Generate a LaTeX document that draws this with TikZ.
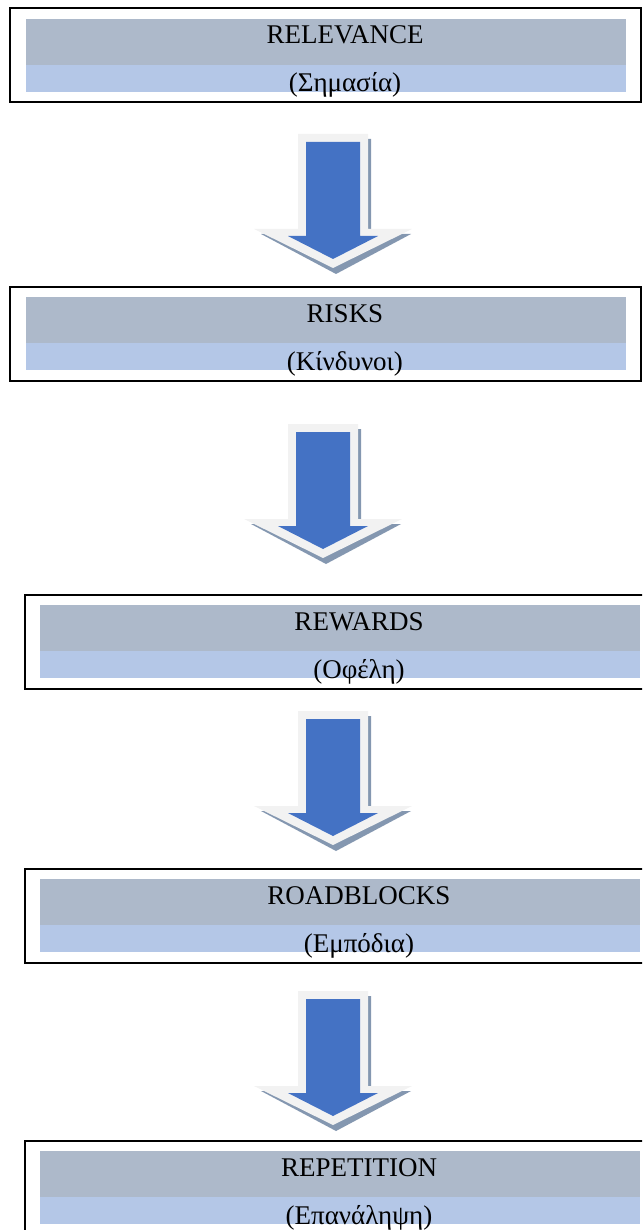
\documentclass[tikz,border=0pt]{standalone}
\usepackage{fontspec}
\setmainfont{Liberation Serif}
\definecolor{bandgray}{HTML}{ADB9CA}
\definecolor{bandblue}{HTML}{B4C7E7}
\definecolor{arrowblue}{HTML}{4472C4}
\definecolor{arrowrim}{HTML}{F2F2F2}
\definecolor{arrowshade}{HTML}{8497B0}
\tikzset{
  frame/.style={draw=black, line width=2pt, rectangle, inner sep=0pt, anchor=north west, minimum height=94pt},
  topband/.style={fill=bandgray, rectangle, inner sep=0pt, anchor=north west, minimum width=600pt, minimum height=46pt},
  lowband/.style={fill=bandblue, rectangle, inner sep=0pt, anchor=north west, minimum width=600pt, minimum height=27pt},
  label/.style={anchor=base, inner sep=0pt, font=\fontsize{27}{30}\selectfont},
  blockarrow/.pic={
    % soft drop shadow, white rim, blue body
    \fill[arrowshade] (-32,5) -- (38,5) -- (38,100) -- (78,100) -- (3,140) -- (-72,100) -- (-32,100) -- cycle;
    \fill[arrowrim] (-35,0) -- (35,0) -- (35,95) -- (79,95) -- (0,134) -- (-79,95) -- (-35,95) -- cycle;
    \fill[arrowblue] (-27,8) -- (27,8) -- (27,102) -- (45,102) -- (0,125) -- (-45,102) -- (-27,102) -- cycle;
  }
}
\begin{document}
\begin{tikzpicture}[x=1pt, y=-1pt]
  \useasboundingbox (0,0) rectangle (642,1230);
  \clip (0,0) rectangle (642,1230);

  % Relevance
  \node[frame, minimum width=631pt] (box1) at (9,7.5) {};
  \node[topband] (b1top) at (26,18.5) {};
  \node[lowband] (b1low) at (26,64.5) {};
  \node[label] (t1a) at (345,43.5) {RELEVANCE};
  \node[label] (t1b) at (345,91.5) {(Σημασία)};

  % Risks
  \node[frame, minimum width=631pt] (box2) at (9,286) {};
  \node[topband] (b2top) at (26,297) {};
  \node[lowband] (b2low) at (26,343) {};
  \node[label] (t2a) at (345,322) {RISKS};
  \node[label] (t2b) at (345,370) {(Κίνδυνοι)};

  % Rewards
  \node[frame, minimum width=660pt] (box3) at (24,594) {};
  \node[topband] (b3top) at (40,605) {};
  \node[lowband] (b3low) at (40,651) {};
  \node[label] (t3a) at (359,630) {REWARDS};
  \node[label] (t3b) at (359,678) {(Οφέλη)};

  % Roadblocks
  \node[frame, minimum width=660pt] (box4) at (24,868) {};
  \node[topband] (b4top) at (40,879) {};
  \node[lowband] (b4low) at (40,925) {};
  \node[label] (t4a) at (359,904) {ROADBLOCKS};
  \node[label] (t4b) at (359,952) {(Εμπόδια)};

  % Repetition
  \node[frame, minimum width=660pt] (box5) at (24,1140) {};
  \node[topband] (b5top) at (40,1151) {};
  \node[lowband] (b5low) at (40,1197) {};
  \node[label] (t5a) at (359,1176) {REPETITION};
  \node[label] (t5b) at (359,1224) {(Επανάληψη)};

  % block arrows between the stages
  \coordinate (a1) at (333,134);
  \coordinate (a2) at (323,424);
  \coordinate (a3) at (333,711);
  \coordinate (a4) at (333,991);
  \pic at (a1) {blockarrow};
  \pic at (a2) {blockarrow};
  \pic at (a3) {blockarrow};
  \pic at (a4) {blockarrow};
\end{tikzpicture}
\end{document}
